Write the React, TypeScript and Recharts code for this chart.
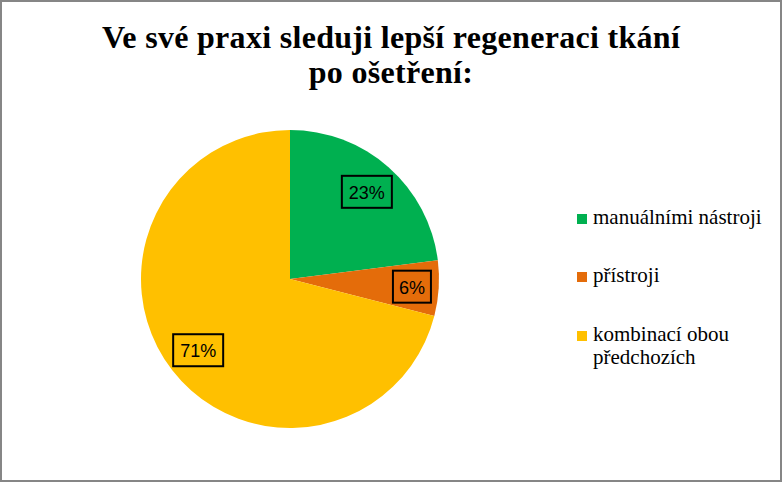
import { Pie, PieChart, Cell } from "recharts";

const categories = ["manuálními nástroji", "přístroji", "kombinací obou předchozích"];
const legendLines = [["manuálními nástroji"], ["přístroji"], ["kombinací obou", "předchozích"]];
const shares = [23, 6, 71];
const colors = ["#00B050", "#E46C0A", "#FFC000"];

const data = categories.map((name, i) => ({ name, value: shares[i] }));

const RAD = Math.PI / 180;
const SERIF = "'Liberation Serif', 'Times New Roman', serif";

function renderLabel(props: any) {
  const { cx, cy, midAngle, outerRadius, value } = props;
  const r = outerRadius * (value < 10 ? 0.82 : 0.78);
  const x = cx + r * Math.cos(-midAngle * RAD);
  const y = cy + r * Math.sin(-midAngle * RAD);
  const text = `${value}%`;
  const w = text.length === 2 ? 38 : 50;
  const h = 32;
  return (
    <g>
      <rect x={x - w / 2} y={y - h / 2} width={w} height={h} fill="none" stroke="#000" strokeWidth={2} />
      <text
        x={x}
        y={y + 1}
        textAnchor="middle"
        dominantBaseline="central"
        fontFamily="'Liberation Sans', Arial, sans-serif"
        fontSize={18}
        fill="#000"
      >
        {text}
      </text>
    </g>
  );
}

function ChartLegend() {
  const tops = [206, 264, 323];
  return (
    <div style={{ position: "absolute", left: 575, top: 0, width: 200 }}>
      {legendLines.map((lines, i) => (
        <div key={i} style={{ position: "absolute", left: 0, top: tops[i] - 2, display: "flex" }}>
          <div style={{ width: 10, height: 10, background: colors[i], marginTop: 8, marginRight: 6, flex: "none" }} />
          <div style={{ fontFamily: SERIF, fontSize: 21, lineHeight: "23px", color: "#000", whiteSpace: "nowrap" }}>
            {lines.map((l, j) => (
              <div key={j}>{l}</div>
            ))}
          </div>
        </div>
      ))}
    </div>
  );
}

export default function App() {
  return (
    <div
      style={{
        position: "absolute",
        left: 0,
        top: 0,
        width: 782,
        height: 482,
        boxSizing: "border-box",
        border: "2px solid #868686",
        background: "#fff",
      }}
    >
      <div
        style={{
          position: "absolute",
          left: 0,
          top: 18,
          width: 778,
          textAlign: "center",
          fontFamily: SERIF,
          fontWeight: "bold",
          fontSize: 32,
          letterSpacing: 0.3,
          lineHeight: "35px",
          color: "#000",
        }}
      >
        Ve své praxi sleduji lepší regeneraci tkání
        <br />
        po ošetření:
      </div>
      <div style={{ position: "absolute", left: -2, top: -2 }}>
        <PieChart width={782} height={482} margin={{ top: 0, right: 0, bottom: 0, left: 0 }}>
          <Pie
            data={data}
            dataKey="value"
            nameKey="name"
            cx={290}
            cy={279}
            outerRadius={149}
            startAngle={90}
            endAngle={-270}
            stroke="none"
            label={renderLabel}
            labelLine={false}
            isAnimationActive={false}
          >
            {data.map((d, i) => (
              <Cell key={d.name} fill={colors[i]} />
            ))}
          </Pie>
        </PieChart>
      </div>
      <ChartLegend />
    </div>
  );
}
